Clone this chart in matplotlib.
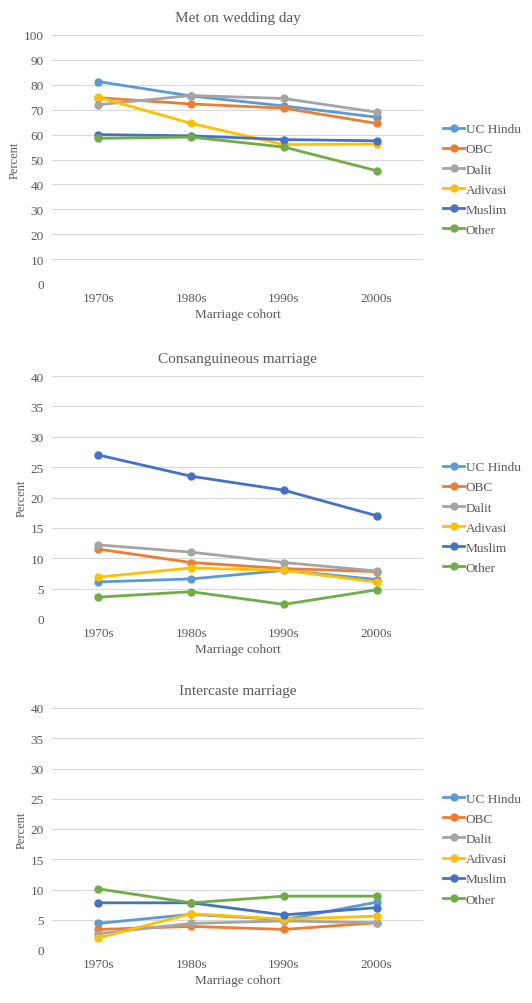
import matplotlib
matplotlib.use('Agg')
import matplotlib.pyplot as plt

plt.rcParams['font.family'] = ['Liberation Serif', 'DejaVu Serif']

cohorts = ['1970s', '1980s', '1990s', '2000s']
groups = ['UC Hindu', 'OBC', 'Dalit', 'Adivasi', 'Muslim', 'Other']
colors = ['#5B9BD5', '#ED7D31', '#A5A5A5', '#FFC000', '#4472C4', '#70AD47']

# Met on wedding day
met_uc_hindu = [81.3, 75.5, 71.5, 67.0]
met_obc = [74.8, 72.3, 70.6, 64.5]
met_dalit = [72.0, 75.7, 74.5, 69.0]
met_adivasi = [75.0, 64.5, 56.0, 56.2]
met_muslim = [60.0, 59.5, 58.0, 57.5]
met_other = [58.5, 59.0, 55.0, 45.5]

# Consanguineous marriage
cons_uc_hindu = [6.1, 6.6, 8.0, 6.5]
cons_obc = [11.5, 9.3, 8.3, 7.8]
cons_dalit = [12.2, 11.0, 9.3, 7.9]
cons_adivasi = [6.9, 8.4, 8.0, 6.1]
cons_muslim = [27.0, 23.5, 21.2, 17.0]
cons_other = [3.6, 4.5, 2.4, 4.8]

# Intercaste marriage
inter_uc_hindu = [4.4, 5.9, 5.0, 7.9]
inter_obc = [3.4, 3.9, 3.4, 4.5]
inter_dalit = [2.7, 4.4, 4.8, 4.5]
inter_adivasi = [2.0, 6.0, 5.1, 5.6]
inter_muslim = [7.8, 7.8, 5.8, 7.0]
inter_other = [10.1, 7.8, 8.9, 8.9]

panels = [
    ('Met on wedding day', [met_uc_hindu, met_obc, met_dalit, met_adivasi, met_muslim, met_other], 100, 10),
    ('Consanguineous marriage', [cons_uc_hindu, cons_obc, cons_dalit, cons_adivasi, cons_muslim, cons_other], 40, 5),
    ('Intercaste marriage', [inter_uc_hindu, inter_obc, inter_dalit, inter_adivasi, inter_muslim, inter_other], 40, 5),
]

W, H = 532, 1004
# (top, bottom) of each plot area in pixels
boxes = [(36, 285), (377, 620), (709, 951)]
left_px, right_px = 52, 423
text_col = '#595959'

fig = plt.figure(figsize=(W / 100, H / 100), dpi=100)
fig.patch.set_facecolor('white')

for (title, series, ymax, step), (top, bot) in zip(panels, boxes):
    ax = fig.add_axes([left_px / W, 1 - bot / H, (right_px - left_px) / W, (bot - top) / H])
    x = range(len(cohorts))
    for name, vals, c in zip(groups, series, colors):
        ax.plot(x, vals, color=c, lw=2, marker='o', ms=5, label=name)
    ax.set_xlim(-0.5, 3.5)
    ax.set_ylim(0, ymax)
    ax.set_yticks(range(0, ymax + 1, step))
    ax.set_xticks(list(x))
    ax.set_xticklabels(cohorts)
    ax.grid(axis='y', color='#D9D9D9', lw=0.8)
    ax.set_axisbelow(True)
    for s in ax.spines.values():
        s.set_visible(False)
    ax.tick_params(length=0, labelsize=9.5, colors=text_col, pad=6)
    ax.set_title(title, fontsize=11, color=text_col, pad=10)
    ax.set_xlabel('Marriage cohort', fontsize=9.5, color=text_col, labelpad=3)
    ax.set_ylabel('Percent', fontsize=9, color=text_col, labelpad=2)
    leg_y = 0.5 - 20 / (bot - top)
    ax.legend(loc='center left', bbox_to_anchor=(1.04, leg_y), frameon=False,
              fontsize=9.5, labelcolor=text_col, handlelength=1.6, handletextpad=0.1,
              labelspacing=0.6, borderaxespad=0)

fig.savefig('out.png', dpi=100, facecolor='white')
